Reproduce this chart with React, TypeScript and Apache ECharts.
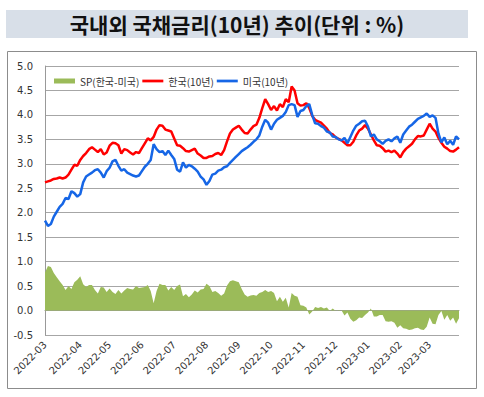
import React, { useEffect, useRef } from "react";
import * as echarts from "echarts";

// 한국 10년 국채금리 (%), every second business day, 2022-03-01 .. 2023-03-31
const krYield: number[] = [
  2.62, 2.64, 2.66, 2.69, 2.70, 2.72, 2.70, 2.72, 2.78, 2.88,
  2.98, 2.96, 3.08, 3.16, 3.22, 3.30, 3.34, 3.29, 3.24, 3.30,
  3.19, 3.23, 3.37, 3.43, 3.42, 3.38, 3.21, 3.30, 3.28, 3.23,
  3.19, 3.24, 3.22, 3.32, 3.42, 3.52, 3.48, 3.55, 3.70, 3.79,
  3.78, 3.70, 3.68, 3.66, 3.52, 3.38, 3.37, 3.32, 3.26, 3.25,
  3.28, 3.31, 3.21, 3.17, 3.12, 3.12, 3.15, 3.16, 3.20, 3.22,
  3.18, 3.28, 3.46, 3.62, 3.70, 3.74, 3.78, 3.70, 3.63, 3.62,
  3.70, 3.77, 3.80, 3.94, 4.14, 4.32, 4.22, 4.10, 4.18, 4.09,
  4.22, 4.16, 4.32, 4.26, 4.58, 4.50, 4.24, 4.19, 4.20, 4.24,
  4.14, 3.98, 3.90, 3.87, 3.84, 3.78, 3.72, 3.63, 3.60, 3.54,
  3.51, 3.48, 3.43, 3.38, 3.38, 3.45, 3.58, 3.68, 3.72, 3.79,
  3.72, 3.60, 3.48, 3.38, 3.37, 3.32, 3.25, 3.27, 3.24, 3.27,
  3.21, 3.13, 3.24, 3.31, 3.36, 3.41, 3.50, 3.57, 3.56, 3.58,
  3.70, 3.82, 3.72, 3.66, 3.53, 3.43, 3.35, 3.31, 3.26, 3.25,
  3.29, 3.34,
];

// 미국 10년 국채금리 (%)
const usYield: number[] = [
  1.84, 1.73, 1.77, 1.92, 2.02, 2.12, 2.18, 2.30, 2.28, 2.44,
  2.40, 2.33, 2.38, 2.62, 2.74, 2.78, 2.82, 2.87, 2.89, 2.82,
  2.72, 2.85, 2.92, 3.05, 3.08, 2.96, 2.86, 2.89, 2.82, 2.79,
  2.76, 2.74, 2.76, 2.85, 2.94, 3.00, 3.08, 3.40, 3.30, 3.24,
  3.26, 3.18, 3.27, 3.18, 3.10, 2.88, 2.84, 3.03, 2.92, 2.98,
  2.95, 2.90, 2.84, 2.74, 2.68, 2.57, 2.65, 2.78, 2.80, 2.86,
  2.88, 2.93, 2.95, 3.02, 3.08, 3.14, 3.20, 3.26, 3.30, 3.34,
  3.39, 3.45, 3.50, 3.58, 3.76, 3.90, 3.84, 3.70, 3.82, 3.90,
  3.94, 3.98, 4.06, 4.20, 4.22, 4.20, 3.96, 4.08, 4.10, 4.18,
  4.22, 4.00, 3.83, 3.82, 3.77, 3.74, 3.66, 3.64, 3.56, 3.55,
  3.50, 3.48, 3.53, 3.42, 3.55, 3.68, 3.78, 3.82, 3.87, 3.88,
  3.76, 3.56, 3.60, 3.50, 3.46, 3.41, 3.47, 3.50, 3.46, 3.52,
  3.56, 3.43, 3.60, 3.68, 3.76, 3.80, 3.86, 3.92, 3.95, 3.98,
  4.03, 3.96, 3.99, 3.94, 3.62, 3.44, 3.54, 3.40, 3.47, 3.39,
  3.56, 3.50,
];

const yTicks = { min: -0.5, max: 5.0, interval: 0.5 };
const legendNames = ["SP(한국-미국)", "한국(10년)", "미국(10년)"];
const titleText = "국내외 국채금리(10년) 추이(단위 : %)";

function buildDates(count: number): string[] {
  const out: string[] = [];
  const d = new Date(Date.UTC(2022, 2, 1));
  let wd = 0;
  while (out.length < count) {
    const day = d.getUTCDay();
    if (day !== 0 && day !== 6) {
      if (wd % 2 === 0) out.push(d.toISOString().slice(0, 10));
      wd++;
    }
    d.setUTCDate(d.getUTCDate() + 1);
  }
  return out;
}

const lineIcon = "path://M0,0h20v2.6h-20z";

export default function App() {
  const ref = useRef<HTMLDivElement>(null);
  useEffect(() => {
    if (!ref.current) return;
    const chart = echarts.init(ref.current, undefined, { renderer: "svg" });
    const dates = buildDates(krYield.length);
    const spread = krYield.map((v, i) => +(v - usYield[i]).toFixed(2));
    const monthStart = (idx: number) =>
      idx === 0 || dates[idx].slice(0, 7) !== dates[idx - 1].slice(0, 7);
    const font = "'Noto Sans CJK KR', 'Noto Sans', sans-serif";

    chart.setOption({
      animation: false,
      backgroundColor: "#ffffff",
      textStyle: { fontFamily: font },
      graphic: [
        {
          type: "rect",
          shape: { x: 6, y: 10, width: 462, height: 28 },
          style: { fill: "#d8dfe8" },
          silent: true,
        },
        {
          type: "text",
          x: 237,
          y: 24,
          style: {
            text: titleText,
            fontSize: 21,
            fontWeight: "bold",
            fontFamily: font,
            fill: "#111",
            align: "center",
            verticalAlign: "middle",
          },
          silent: true,
        },
        {
          type: "rect",
          shape: { x: 7.5, y: 51.5, width: 469, height: 337 },
          style: { fill: "none", stroke: "#8c8c8c", lineWidth: 1 },
          silent: true,
        },
      ],
      legend: {
        left: 49,
        top: 71,
        itemGap: 3,
        itemWidth: 21,
        itemHeight: 5,
        textStyle: { fontSize: 10, color: "#333", fontFamily: font },
        data: [
          { name: legendNames[0], icon: "rect", itemStyle: { color: "#9bbb59" } },
          { name: legendNames[1], icon: lineIcon, itemStyle: { color: "#ff0000" } },
          { name: legendNames[2], icon: lineIcon, itemStyle: { color: "#1666e6" } },
        ],
      },
      grid: { left: 45, right: 25, top: 66, bottom: 62 },
      xAxis: {
        type: "category",
        data: dates,
        boundaryGap: false,
        axisLine: { show: true, lineStyle: { color: "#999" } },
        axisTick: { show: false },
        axisLabel: {
          interval: (idx: number) => monthStart(idx),
          formatter: (v: string) => v.slice(0, 7),
          rotate: 45,
          fontSize: 10,
          color: "#333",
          margin: 8,
          fontFamily: "Verdana, 'DejaVu Sans', sans-serif",
        },
        splitLine: { show: false },
      },
      yAxis: {
        type: "value",
        min: yTicks.min,
        max: yTicks.max,
        interval: yTicks.interval,
        axisLine: { show: true, lineStyle: { color: "#999" } },
        axisTick: { show: false },
        axisLabel: {
          formatter: (v: number) => v.toFixed(1),
          fontSize: 10,
          color: "#333",
          margin: 12,
          fontFamily: "Verdana, 'DejaVu Sans', sans-serif",
        },
        splitLine: { show: true, lineStyle: { color: "#a6a6a6", width: 1.2 } },
      },
      series: [
        {
          name: legendNames[0],
          type: "line",
          data: spread,
          symbol: "none",
          lineStyle: { width: 0, color: "#9bbb59" },
          itemStyle: { color: "#9bbb59" },
          areaStyle: { color: "#9bbb59", opacity: 1, origin: "auto" },
          z: 1,
        },
        {
          name: legendNames[1],
          type: "line",
          data: krYield,
          symbol: "none",
          lineStyle: { width: 2.5, color: "#ff0000" },
          itemStyle: { color: "#ff0000" },
          z: 3,
        },
        {
          name: legendNames[2],
          type: "line",
          data: usYield,
          symbol: "none",
          lineStyle: { width: 2.5, color: "#1666e6" },
          itemStyle: { color: "#1666e6" },
          z: 4,
        },
      ],
    });
    return () => chart.dispose();
  }, []);
  return (
    <div
      ref={ref}
      style={{ position: "absolute", left: 0, top: 0, width: 484, height: 397 }}
    />
  );
}
